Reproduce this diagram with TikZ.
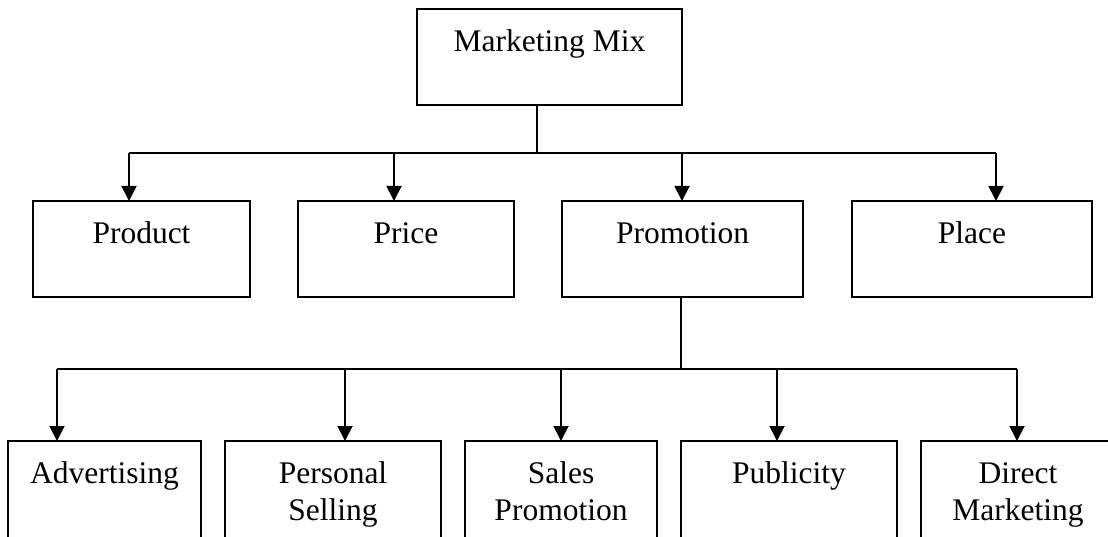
\documentclass[tikz,border=0pt]{standalone}
\usepackage{fontspec}
\setmainfont{Liberation Serif}
\usetikzlibrary{arrows.meta}
\begin{document}
\begin{tikzpicture}[x=1pt,y=-1pt,
  boxst/.style={draw,line width=1.9pt,inner sep=0pt,outer sep=0pt},
  lbl/.style={inner sep=0pt,outer sep=0pt,align=center,anchor=base,
    font=\fontsize{31.5}{37}\selectfont},
  conn/.style={line width=1.9pt},
  arr/.style={line width=1.9pt,-{Triangle[length=15pt,width=15pt]}}]
\useasboundingbox (0,0) rectangle (1108,537);
\clip (0,0) rectangle (1108,537);
\fill[white] (0,0) rectangle (1108,537);
% boxes
\node[boxst,minimum width=265pt,minimum height=96pt,anchor=north west] (mm) at (417,9) {};
\node[boxst,minimum width=217pt,minimum height=96pt,anchor=north west] (product) at (33,201) {};
\node[boxst,minimum width=216pt,minimum height=96pt,anchor=north west] (price) at (298,201) {};
\node[boxst,minimum width=241pt,minimum height=96pt,anchor=north west] (promotion) at (562,201) {};
\node[boxst,minimum width=240pt,minimum height=96pt,anchor=north west] (place) at (852,201) {};
\node[boxst,minimum width=193pt,minimum height=130pt,anchor=north west] (adv) at (8,441) {};
\node[boxst,minimum width=216pt,minimum height=130pt,anchor=north west] (pers) at (225,441) {};
\node[boxst,minimum width=192pt,minimum height=130pt,anchor=north west] (sales) at (465,441) {};
\node[boxst,minimum width=216pt,minimum height=130pt,anchor=north west] (pub) at (681,441) {};
\node[boxst,minimum width=194pt,minimum height=130pt,anchor=north west] (direct) at (921,441) {};
% labels
\node[lbl] (t-mm) at ([yshift=-43pt]mm.north) {Marketing Mix};
\node[lbl] (t-product) at ([yshift=-43pt]product.north) {Product};
\node[lbl] (t-price) at ([yshift=-43pt]price.north) {Price};
\node[lbl] (t-promotion) at ([yshift=-43pt]promotion.north) {Promotion};
\node[lbl] (t-place) at ([yshift=-43pt]place.north) {Place};
\node[lbl] (t-adv) at ([yshift=-42pt]adv.north) {Advertising};
\node[lbl] (t-pers) at ([yshift=-79pt]pers.north) {Personal\\Selling};
\node[lbl] (t-sales) at ([yshift=-79pt]sales.north) {Sales\\Promotion};
\node[lbl] (t-pub) at ([yshift=-42pt]pub.north) {Publicity};
\node[lbl] (t-direct) at ([yshift=-79pt]direct.north) {Direct\\Marketing};
% junction coordinates
\coordinate (j1) at (537,153);
\coordinate (b1l) at (129,153);
\coordinate (b1p) at (394,153);
\coordinate (b1m) at (682,153);
\coordinate (b1r) at (996,153);
\coordinate (j2) at (681,369);
\coordinate (b2a) at (57,369);
\coordinate (b2b) at (345,369);
\coordinate (b2c) at (561,369);
\coordinate (b2d) at (777,369);
\coordinate (b2e) at (1017,369);
% connectors level 1
\draw[conn] (j1 |- mm.south) -- (j1);
\draw[conn] (b1l) -- (b1r);
\draw[arr] (b1l) -- (b1l |- product.north);
\draw[arr] (b1p) -- (b1p |- price.north);
\draw[arr] (b1m) -- (b1m |- promotion.north);
\draw[arr] (b1r) -- (b1r |- place.north);
% connectors level 2
\draw[conn] (j2 |- promotion.south) -- (j2);
\draw[conn] (b2a) -- (b2e);
\draw[arr] (b2a) -- (b2a |- adv.north);
\draw[arr] (b2b) -- (b2b |- pers.north);
\draw[arr] (b2c) -- (b2c |- sales.north);
\draw[arr] (b2d) -- (b2d |- pub.north);
\draw[arr] (b2e) -- (b2e |- direct.north);
\end{tikzpicture}
\end{document}
